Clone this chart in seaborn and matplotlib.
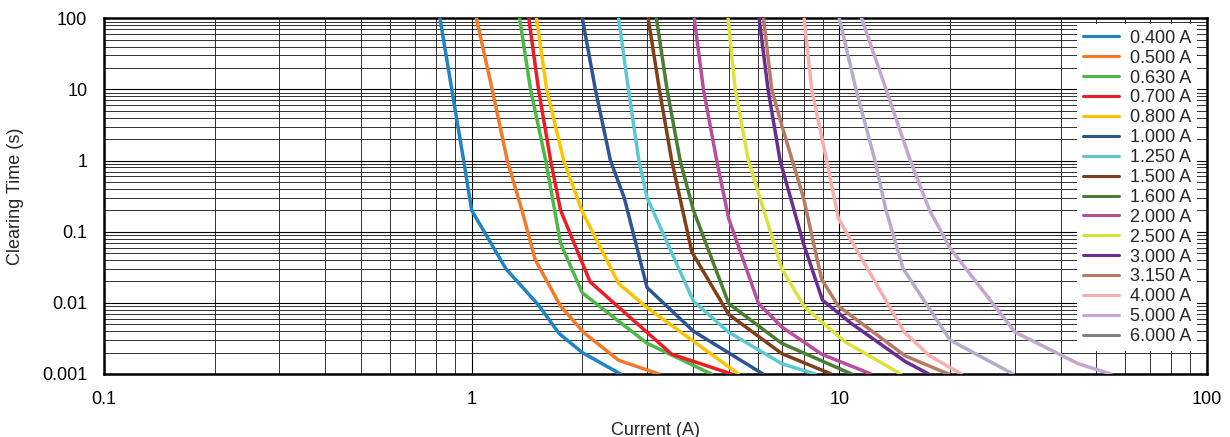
import numpy as np
import pandas as pd
import matplotlib
matplotlib.use("Agg")
import matplotlib.pyplot as plt
from matplotlib.lines import Line2D
import matplotlib.ticker as mticker
import seaborn as sns

sns.set_theme(style="white")
plt.rcParams['font.family'] = ['Liberation Sans', 'DejaVu Sans']

ratings = ["0.400 A", "0.500 A", "0.630 A", "0.700 A", "0.800 A", "1.000 A",
           "1.250 A", "1.500 A", "1.600 A", "2.000 A", "2.500 A", "3.000 A",
           "3.150 A", "4.000 A", "5.000 A", "6.000 A"]

# (current A, clearing time s) points
i_040 = [0.82, 0.883, 0.951, 1.0, 1.24, 1.52, 1.73, 2.0, 2.54]
t_040 = [100, 10, 1, 0.2, 0.03, 0.0093, 0.0037, 0.002, 0.001]
i_050 = [1.03, 1.137, 1.25, 1.37, 1.49, 1.745, 2.02, 2.51, 3.23]
t_050 = [100, 10, 1, 0.2, 0.04, 0.009, 0.0038, 0.00156, 0.001]
i_063 = [1.35, 1.446, 1.59, 1.745, 2.0, 3.0, 4.49]
t_063 = [100, 10, 1, 0.069, 0.0138, 0.0027, 0.001]
i_070 = [1.43, 1.52, 1.64, 1.745, 2.1, 3.5, 5.09]
t_070 = [100, 10, 1, 0.2, 0.0197, 0.0019, 0.001]
i_080 = [1.50, 1.60, 1.78, 2.0, 2.51, 2.98, 5.32]
t_080 = [100, 10, 1, 0.19, 0.0187, 0.0088, 0.001]
i_100 = [2.0, 2.17, 2.385, 2.6, 3.0, 4.01, 6.2]
t_100 = [100, 10, 1, 0.3, 0.0164, 0.004, 0.001]
i_125 = [2.51, 2.67, 2.85, 3.0, 4.01, 4.99, 6.97, 8.59]
t_125 = [100, 10, 1, 0.3, 0.0106, 0.0039, 0.0014, 0.001]
i_150 = [3.02, 3.24, 3.50, 3.97, 5.0, 6.97, 9.5]
t_150 = [100, 10, 1, 0.052, 0.0069, 0.00194, 0.001]
i_160 = [3.18, 3.40, 3.69, 4.01, 5.0, 6.97, 10.8]
t_160 = [100, 10, 1, 0.2, 0.0098, 0.0027, 0.001]
i_200 = [4.03, 4.27, 4.64, 5.0, 6.03, 6.97, 8.95, 12.2]
t_200 = [100, 10, 1, 0.154, 0.0098, 0.0046, 0.0019, 0.001]
i_250 = [4.98, 5.21, 5.66, 6.97, 8.03, 10.4, 14.7]
t_250 = [100, 10, 1, 0.0305, 0.0088, 0.0028, 0.001]
i_300 = [6.05, 6.4, 6.9, 7.99, 9.0, 10.8, 15.1, 17.5]
t_300 = [100, 10, 1, 0.068, 0.0109, 0.0051, 0.0015, 0.001]
i_315 = [6.22, 6.55, 6.97, 7.99, 8.95, 9.94, 15.1, 19.8]
t_315 = [100, 10, 3.15, 0.3, 0.0215, 0.009, 0.0018, 0.001]
i_400 = [8.02, 8.41, 9.24, 9.94, 15.0, 17.6, 21.5]
t_400 = [100, 10, 1, 0.154, 0.0039, 0.0018, 0.001]
i_500 = [10.0, 11.1, 12.5, 13.4, 14.9, 20.0, 29.7]
t_500 = [100, 10, 1, 0.2, 0.0305, 0.003, 0.001]
i_600 = [11.5, 13.4, 14.9, 15.6, 17.6, 20.0, 30.0, 44.6, 54.8]
t_600 = [100, 10, 2, 1, 0.2, 0.059, 0.0039, 0.0014, 0.001]

currents = [i_040, i_050, i_063, i_070, i_080, i_100, i_125, i_150, i_160,
            i_200, i_250, i_300, i_315, i_400, i_500, i_600]
times = [t_040, t_050, t_063, t_070, t_080, t_100, t_125, t_150, t_160,
         t_200, t_250, t_300, t_315, t_400, t_500, t_600]

line_colors = ["#1f83c6", "#f47a2a", "#4cb848", "#ee1d25", "#fdc200", "#2c5598",
               "#5cc8d3", "#7f4019", "#4b7d34", "#b94e9f", "#dce23c", "#6a2d91",
               "#b87a63", "#f9aeae", "#b6abcb", "#c5a6d3"]
legend_colors = line_colors[:14] + ["#c5a6d3", "#808080"]

rows = []
for r, cs, ts in zip(ratings, currents, times):
    for k, (c, t) in enumerate(zip(cs, ts)):
        rows.append({"rating": r, "current": c, "time": t, "order": k})
df = pd.DataFrame(rows)

FS = 13

fig = plt.figure(figsize=(12.3, 4.37), dpi=100)
ax = fig.add_axes([104 / 1230, 1 - 374 / 437, (1207 - 104) / 1230, (374 - 18.3) / 437])

ax.set_xscale("log")
ax.set_yscale("log")
ax.set_xlim(0.1, 100)
ax.set_ylim(0.001, 100)

ax.grid(which="major", color="black", lw=0.8)
ax.grid(which="minor", color="#222222", lw=0.65)
ax.xaxis.set_minor_locator(mticker.LogLocator(base=10, subs=np.arange(2, 10)))
ax.yaxis.set_minor_locator(mticker.LogLocator(base=10, subs=np.arange(2, 10)))
ax.xaxis.set_minor_formatter(mticker.NullFormatter())
ax.yaxis.set_minor_formatter(mticker.NullFormatter())

sns.lineplot(data=df, x="current", y="time", hue="rating", palette=line_colors,
             hue_order=ratings, estimator=None, sort=False, units="rating",
             lw=2.5, ax=ax, legend=False, zorder=3)

xt = [0.1, 1, 10, 100]
yt = [0.001, 0.01, 0.1, 1, 10, 100]
ax.set_xticks(xt)
ax.set_xticklabels(["0.1", "1", "10", "100"])
ax.set_yticks(yt)
ax.set_yticklabels(["0.001", "0.01", "0.1", "1", "10", "100"])
ax.tick_params(which="both", length=0, labelsize=FS, colors="black")
ax.tick_params(axis="y", pad=12)
ax.tick_params(axis="x", pad=12)

for s in ax.spines.values():
    s.set_visible(True)
    s.set_color("black")
    s.set_linewidth(1.8)

ax.set_xlabel("Current (A)", fontsize=FS, labelpad=10)
ax.set_ylabel("Clearing Time (s)", fontsize=FS, labelpad=13)

handles = [Line2D([], [], color=c, lw=2.2) for c in legend_colors]
leg = ax.legend(handles, ratings, loc="upper right", bbox_to_anchor=(0.9905, 0.983),
                borderaxespad=0, frameon=True, fancybox=False, framealpha=1,
                facecolor="white", edgecolor="none", fontsize=FS,
                handlelength=2.0, handletextpad=0.6, labelspacing=0.16,
                borderpad=0.3)
leg.set_zorder(5)

fig.savefig("out.png", dpi=100)
